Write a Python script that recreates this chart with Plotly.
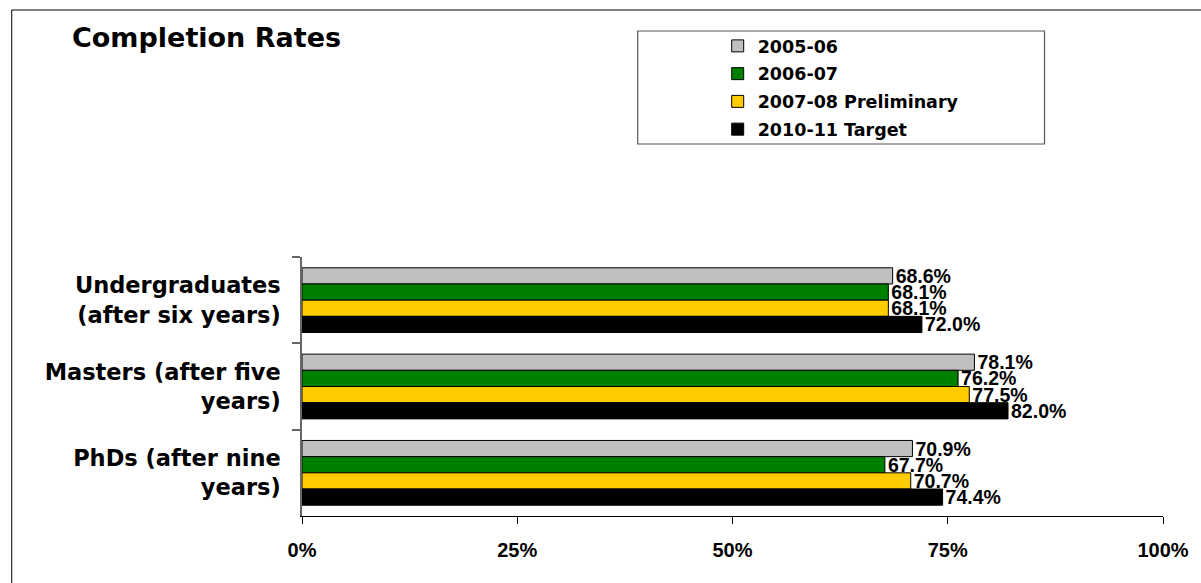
import plotly.graph_objects as go

# Completion rates by programme level and year
categories = ["Undergraduates<br>(after six years)", "Masters (after five<br>years)", "PhDs (after nine<br>years)"]
series_names = ["2005-06", "2006-07", "2007-08 Preliminary", "2010-11 Target"]
rates_2005_06 = [68.6, 78.1, 70.9]
rates_2006_07 = [68.1, 76.2, 67.7]
rates_2007_08 = [68.1, 77.5, 70.7]
rates_2010_11 = [72.0, 82.0, 74.4]
x_ticks = [0, 25, 50, 75, 100]
x_tick_labels = ["0%", "25%", "50%", "75%", "100%"]

series_values = [rates_2005_06, rates_2006_07, rates_2007_08, rates_2010_11]
series_colors = ["#C0C0C0", "#008000", "#FFCC00", "#000000"]

W, H = 1201, 583
PL, PR, PT, PB = 302, 1174, 257, 516


def px_x(px):
    return (px - PL) / (PR - PL)


def px_y(py):
    return (PB - py) / (PB - PT)


BOLD_SANS = "DejaVu Sans"
ARIAL = "Liberation Sans"

fig = go.Figure()
for i, (name, vals, col) in enumerate(zip(series_names, series_values, series_colors)):
    fig.add_trace(go.Bar(
        y=categories, x=vals, name=name, orientation="h",
        marker=dict(color=col, line=dict(color="#000000", width=1)),
        text=[f"<b>{v:.1f}%</b>" for v in vals],
        textposition="outside",
        constraintext="none",
        textfont=dict(family=ARIAL, size=19.5, color="#000000"),
        cliponaxis=False,
        legendgroup=f"g{i}",
        hoverinfo="skip",
    ))

shapes = [
    # outer frame (left and top edges)
    dict(type="line", xref="paper", yref="paper", x0=px_x(8), x1=px_x(8), y0=px_y(10), y1=px_y(700),
         line=dict(color="#000000", width=1)),
    dict(type="line", xref="paper", yref="paper", x0=px_x(8), x1=px_x(1300), y0=px_y(10), y1=px_y(10),
         line=dict(color="#000000", width=1)),
    # legend frame
    dict(type="rect", xref="paper", yref="paper", x0=px_x(642), x1=px_x(1054), y0=px_y(31), y1=px_y(144),
         line=dict(color="#555555", width=1.2), fillcolor="rgba(0,0,0,0)"),
]

fig.update_layout(
    width=W, height=H,
    margin=dict(l=PL, r=W - PR, t=PT, b=H - PB, pad=0),
    paper_bgcolor="white", plot_bgcolor="white",
    barmode="group", bargap=0.25, bargroupgap=0,
    showlegend=True,
    legend=dict(
        x=px_x(723), y=px_y(28), xanchor="left", yanchor="top",
        bgcolor="rgba(0,0,0,0)", borderwidth=0,
        font=dict(family=BOLD_SANS, size=17.5, color="#000000", weight="bold"),
        traceorder="grouped", tracegroupgap=2,
    ),
    title=dict(
        text="<b>Completion Rates</b>", x=72 / W, xref="container", xanchor="left",
        y=1 - 38 / H, yref="container", yanchor="middle",
        font=dict(family=BOLD_SANS, size=27, color="#000000"),
    ),
    xaxis=dict(
        range=[0, 100], tickvals=x_ticks, ticktext=[f"<b>{t}</b>" for t in x_tick_labels],
        showgrid=False, zeroline=False,
        showline=True, linecolor="#000000", linewidth=1,
        ticks="outside", ticklen=7, tickcolor="#000000", tickwidth=1,
        tickfont=dict(family=ARIAL, size=20, color="#000000"),
        ticklabelstandoff=9,
    ),
    yaxis=dict(
        autorange="reversed", type="category",
        showgrid=False, zeroline=False,
        showline=True, linecolor="#666666", linewidth=1.5,
        ticks="outside", ticklen=8, tickcolor="#666666", tickwidth=1.5,
        tickson="boundaries",
        tickfont=dict(family=BOLD_SANS, size=22.5, color="#000000", weight="bold"),
        ticklabelstandoff=15,
    ),
    shapes=shapes,
)

fig.write_html("out.html")
